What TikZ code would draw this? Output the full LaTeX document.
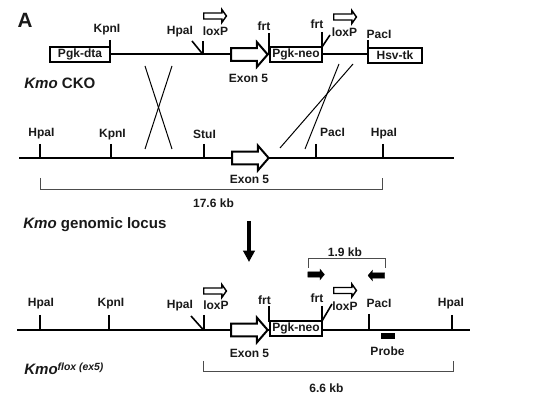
\documentclass[tikz,border=0pt]{standalone}
\usepackage{fontspec}
\setmainfont{Liberation Sans}
\usetikzlibrary{shapes.arrows,arrows.meta}
\tikzset{
  lab/.style={font=\bfseries\fontsize{9}{10}\selectfont,inner sep=0pt,text=black!90},
  big/.style={font=\bfseries\fontsize{11.3}{13}\selectfont,inner sep=0pt,anchor=base west,text=black!90},
  backbone/.style={line width=1.5pt,black},
  tickline/.style={line width=1.5pt,black},
  slash/.style={line width=1.2pt,black},
  cross/.style={line width=0.75pt,black},
  brack/.style={line width=0.75pt,black!70},
  cassette/.style={draw=black,line width=1.5pt,fill=white,inner sep=0pt,minimum height=11.5pt,font=\bfseries\fontsize{9}{10}\selectfont,text=black!90},
  exon/.style={single arrow,draw=black,line width=1.5pt,fill=white,inner sep=0pt,anchor=west,
    minimum height=27.5pt,minimum width=17pt,text height=8pt,text depth=0pt,text width=1pt,
    single arrow head extend=4.5pt,single arrow tip angle=98},
  site/.style={single arrow,draw=black,line width=1.1pt,fill=white,inner sep=0pt,anchor=west,
    minimum height=17pt,minimum width=9.5pt,text height=3.2pt,text depth=0pt,text width=1pt,
    single arrow head extend=2.4pt,single arrow tip angle=110},
  primer/.style={single arrow,draw=black,line width=0.3pt,fill=black,inner sep=0pt,
    minimum height=12.5pt,minimum width=7.5pt,text height=3.6pt,text depth=0pt,text width=1pt,
    single arrow head extend=2pt,single arrow tip angle=100},
}
\begin{document}
\begin{tikzpicture}[x=0.75pt,y=-0.75pt]
\useasboundingbox (0,0) rectangle (551,409);
% ---------- Panel letter and titles
\node[font=\bfseries\fontsize{15.5}{17}\selectfont,inner sep=0pt,text=black!90] (panelA) at (25,20) {A};
\node[big] (titleCKO) at (24,88.5) {\textit{Kmo} CKO};
\node[big] (titleLocus) at (23,229) {\textit{Kmo} genomic locus};
\node[big] (titleFlox) at (24,375) {\textit{Kmo\raisebox{3.4pt}{\fontsize{7.8}{9}\selectfont flox (ex5)}}};

% ---------- Top construct
\node[cassette,minimum width=45pt] (dta) at (80,54.5) {Pgk-dta};
\node[exon] (exT) at (230,54.5) {};
\node[cassette,minimum width=39pt] (neoT) at (296,54.5) {Pgk-neo};
\node[cassette,minimum width=40.5pt] (tk) at (395,55.5) {Hsv-tk};
\coordinate (tKpn) at (110,40);
\coordinate (tKpnB) at (110,54.5);
\coordinate (tLox) at (203,41);
\coordinate (tLoxB) at (203,54.5);
\coordinate (tHpa) at (192,41);
\coordinate (tFrt) at (269,33);
\coordinate (tFrtB) at (269,54);
\coordinate (tFrtR) at (322,32);
\coordinate (tFrtRB) at (322,47);
\coordinate (tSl) at (330,35);
\coordinate (tPac) at (368,40);
\coordinate (tPacB) at (368,54.5);
\draw[backbone] (dta.east) -- (exT.west);
\draw[backbone] (neoT.east |- 0,54.5) -- (tk.west |- 0,54.5);
\draw[tickline] (tKpn) -- (tKpnB);
\draw[tickline] (tLox) -- (tLoxB);
\draw[slash] (tHpa) -- (tLoxB);
\draw[tickline] (tFrt) -- (tFrtB);
\draw[tickline] (tFrtR) -- (tFrtRB);
\draw[slash] (tSl) -- (tFrtRB);
\draw[tickline] (tPac) -- (tPacB);
\node[site] (sT1) at (203,16) {};
\node[site] (sT2) at (333,17) {};
\node[lab] (lT1) at (107,30) {KpnI};
\node[lab] (lT2) at (180,32) {HpaI};
\node[lab] (lT3) at (215.5,31.5) {loxP};
\node[lab] (lT4) at (264,26) {frt};
\node[lab] (lT5) at (317,24) {frt};
\node[lab] (lT6) at (344.5,32) {loxP};
\node[lab] (lT7) at (379,34.5) {PacI};
\node[lab] (lT8) at (248.5,78) {Exon 5};

% ---------- Recombination crosses
\coordinate (cA1) at (145,66);
\coordinate (cA2) at (172,149);
\coordinate (cB1) at (172,66);
\coordinate (cB2) at (145,149);
\coordinate (cC1) at (339,64);
\coordinate (cC2) at (305,149);
\coordinate (cD1) at (353,64);
\coordinate (cD2) at (280,148);
\draw[cross] (cA1) -- (cA2);
\draw[cross] (cB1) -- (cB2);
\draw[cross] (cC1) -- (cC2);
\draw[cross] (cD1) -- (cD2);

% ---------- Genomic locus
\coordinate (mL) at (19,158);
\coordinate (mR) at (454,158);
\draw[backbone] (mL) -- (mR);
\node[exon] (exM) at (231,158) {};
\coordinate (mT1) at (40,144);   \coordinate (mB1) at (40,158);
\coordinate (mT2) at (110.5,144);\coordinate (mB2) at (110.5,158);
\coordinate (mT3) at (203.5,144);\coordinate (mB3) at (203.5,158);
\coordinate (mT4) at (316,144);  \coordinate (mB4) at (316,158);
\coordinate (mT5) at (383,144);  \coordinate (mB5) at (383,158);
\foreach \i in {1,...,5} \draw[tickline] (mT\i) -- (mB\i);
\node[lab] (lM1) at (41.5,134) {HpaI};
\node[lab] (lM2) at (112.5,134.5) {KpnI};
\node[lab] (lM3) at (204.5,134) {StuI};
\node[lab] (lM4) at (332.5,132.5) {PacI};
\node[lab] (lM5) at (384,133.5) {HpaI};
\node[lab] (lM6) at (249.5,179) {Exon 5};
\coordinate (bM1) at (40,178);
\coordinate (bM2) at (40,189.5);
\coordinate (bM3) at (382.5,189.5);
\coordinate (bM4) at (382.5,178);
\draw[brack] (bM1) -- (bM2) -- (bM3) -- (bM4);
\node[lab] (lM7) at (213.5,203) {17.6 kb};

% ---------- Big arrow
\coordinate (bigS) at (249,221);
\coordinate (bigE) at (249,262);
\draw[line width=3.4pt,-{Triangle[length=8.5pt,width=8.5pt]}] (bigS) -- (bigE);

% ---------- Floxed allele
\coordinate (fL) at (17,330);
\coordinate (fR) at (470,330);
\draw[backbone] (fL) -- (fR);
\node[exon] (exF) at (230,330) {};
\node[cassette,minimum width=39pt] (neoF) at (296,328.5) {Pgk-neo};
\coordinate (fT1) at (40,315);   \coordinate (fB1) at (40,330);
\coordinate (fT2) at (109,315);  \coordinate (fB2) at (109,330);
\coordinate (fT3) at (203.5,315);\coordinate (fB3) at (203.5,330);
\coordinate (fT4) at (269,306);  \coordinate (fB4) at (269,322);
\coordinate (fT5) at (322,306);  \coordinate (fB5) at (322,321);
\coordinate (fT6) at (368.5,314);\coordinate (fB6) at (368.5,330);
\coordinate (fT7) at (452,315);  \coordinate (fB7) at (452,330);
\foreach \i in {1,...,7} \draw[tickline] (fT\i) -- (fB\i);
\coordinate (fS1) at (191,316);
\coordinate (fS2) at (332,304);
\draw[slash] (fS1) -- (fB3);
\draw[slash] (fS2) -- (fB5);
\node[site] (sF1) at (203,291) {};
\node[site] (sF2) at (333,290.5) {};
\node[lab] (lF1) at (41,304) {HpaI};
\node[lab] (lF2) at (111,304) {KpnI};
\node[lab] (lF3) at (180,305.5) {HpaI};
\node[lab] (lF4) at (216,305.5) {loxP};
\node[lab] (lF5) at (264.5,300) {frt};
\node[lab] (lF6) at (317,298) {frt};
\node[lab] (lF7) at (345,306) {loxP};
\node[lab] (lF8) at (379,303.5) {PacI};
\node[lab] (lF9) at (451,303.5) {HpaI};
\node[lab] (lF10) at (249.5,353) {Exon 5};
\node[draw=black,fill=black,inner sep=0pt,minimum width=9.5pt,minimum height=3.5pt] (probe) at (387.5,335.5) {};
\node[lab] (lF11) at (387.5,351.5) {Probe};
\coordinate (bF1) at (203,361);
\coordinate (bF2) at (203,372);
\coordinate (bF3) at (453,372);
\coordinate (bF4) at (453,361);
\draw[brack] (bF1) -- (bF2) -- (bF3) -- (bF4);
\node[lab] (lF12) at (326.5,388) {6.6 kb};
% ---------- PCR primers
\node[lab] (lP) at (345,252) {1.9 kb};
\coordinate (bP1) at (308.5,268);
\coordinate (bP2) at (308.5,259);
\coordinate (bP3) at (385,259);
\coordinate (bP4) at (385,268);
\draw[brack] (bP1) -- (bP2) -- (bP3) -- (bP4);
\node[primer,anchor=center] (pr1) at (315,274.5) {};
\node[primer,anchor=center,shape border rotate=180] (pr2) at (377.5,275.5) {};
\end{tikzpicture}
\end{document}
